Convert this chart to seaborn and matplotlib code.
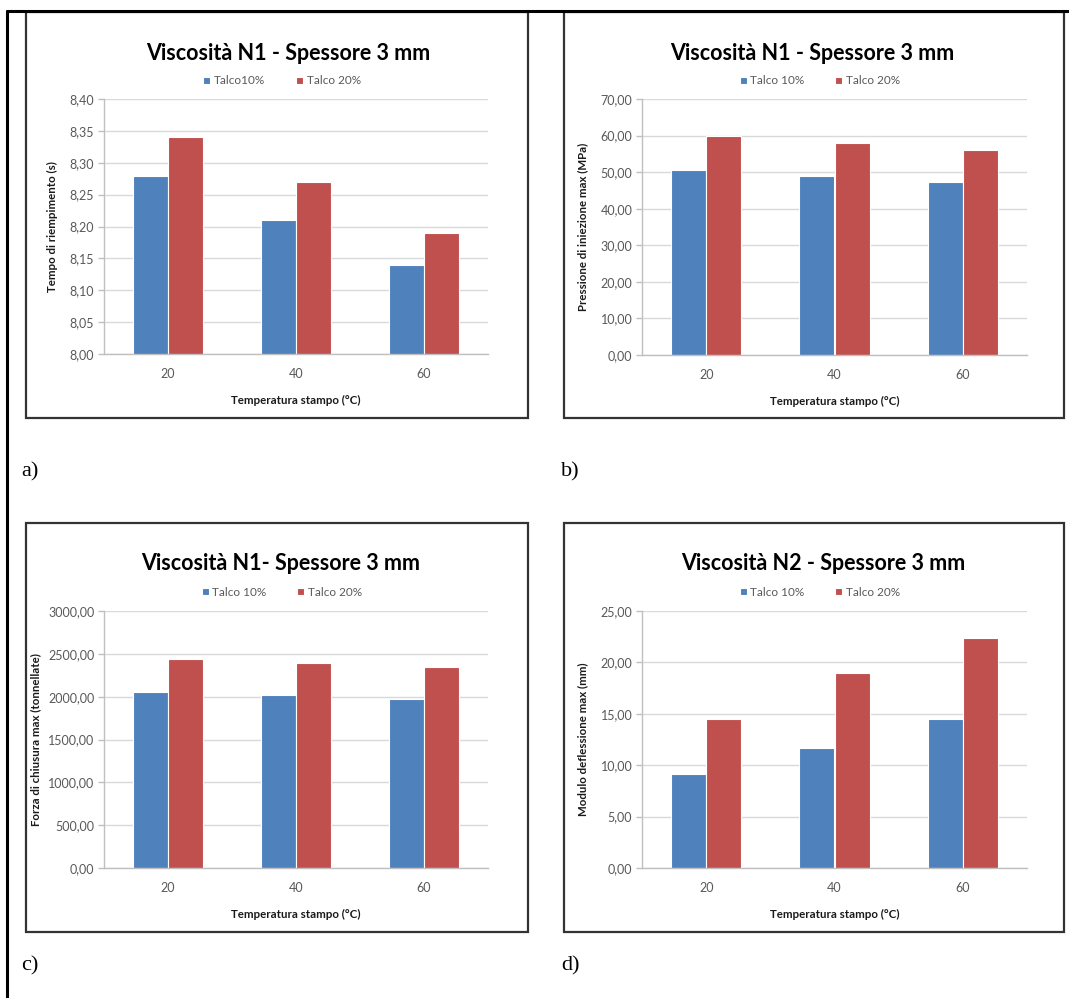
import matplotlib
matplotlib.use("Agg")
import matplotlib.pyplot as plt
import seaborn as sns
import numpy as np
import pandas as pd
from matplotlib.patches import Rectangle
from matplotlib.lines import Line2D
from matplotlib.ticker import FuncFormatter, MultipleLocator

# --- dati ---
temperature = ["20", "40", "60"]

tempo_t10 = [8.28, 8.21, 8.14]
tempo_t20 = [8.34, 8.27, 8.19]

pressione_t10 = [50.6, 49.0, 47.3]
pressione_t20 = [59.9, 57.9, 56.0]

forza_t10 = [2060, 2025, 1975]
forza_t20 = [2435, 2392, 2345]

deflessione_t10 = [9.16, 11.72, 14.48]
deflessione_t20 = [14.45, 18.93, 22.37]

# --- stile ---
sns.set_theme(style="white")
plt.rcParams["font.family"] = ["Lato", "DejaVu Sans"]

W, H = 1069, 998
BLU = "#4F81BD"
ROSSO = "#C0504D"
GRIGIO = "#595959"

fig = plt.figure(figsize=(W / 100, H / 100), dpi=100)


def px_axes(x0, y0, x1, y1):
    return fig.add_axes([x0 / W, 1 - y1 / H, (x1 - x0) / W, (y1 - y0) / H])


def fig_xy(x, y):
    return x / W, 1 - y / H


def virgola(v, pos):
    return f"{v:.2f}".replace(".", ",")


def grafico(box, plot, titolo, tx, lx, etichette, ylabel, ylx, serie10, serie20,
            ylim, passo):
    bx0, by0, bx1, by1 = box
    fig.add_artist(Rectangle(fig_xy(bx0, by1), (bx1 - bx0) / W, (by1 - by0) / H,
                             transform=fig.transFigure, fill=False,
                             edgecolor="#333333", lw=1.6))
    ax = px_axes(*plot)
    df = pd.DataFrame({
        "temp": temperature * 2,
        "serie": [etichette[0]] * 3 + [etichette[1]] * 3,
        "val": serie10 + serie20,
    })
    sns.barplot(data=df, x="temp", y="val", hue="serie", order=temperature,
                palette=[BLU, ROSSO], saturation=1, width=0.55,
                edgecolor="white", linewidth=0.8, ax=ax, legend=True)
    ax.set_ylim(*ylim)
    ax.set_xlim(-0.5, 2.5)
    ax.yaxis.set_major_locator(MultipleLocator(passo))
    ax.yaxis.set_major_formatter(FuncFormatter(virgola))
    ax.yaxis.grid(True, color="#d9d9d9", lw=1)
    ax.set_axisbelow(True)
    for s in ["top", "right"]:
        ax.spines[s].set_visible(False)
    for s in ["left", "bottom"]:
        ax.spines[s].set_color("#bfbfbf")
        ax.spines[s].set_linewidth(1)
    ax.tick_params(axis="y", left=True, length=4, width=1, color="#bfbfbf",
                   pad=3, labelsize=9, labelcolor=GRIGIO)
    ax.tick_params(axis="x", bottom=False, length=0, pad=10, labelsize=9,
                   labelcolor=GRIGIO)
    ax.set_xlabel("")
    ax.set_ylabel("")

    handles, labels = ax.get_legend_handles_labels()
    ax.legend(handles, labels, loc="center", bbox_to_anchor=fig_xy(lx, by0 + 69),
              bbox_transform=fig.transFigure, ncol=2, frameon=False,
              fontsize=8.5, handlelength=0.6, handleheight=0.6,
              handletextpad=0.3, columnspacing=2.6, labelcolor=GRIGIO)

    fig.text(*fig_xy(tx, by0 + 41), titolo, ha="center", va="center",
             fontsize=15.5, fontweight="bold", color="black")
    px0, py0, px1, py1 = plot
    fig.text(*fig_xy((px0 + px1) / 2, py1 + 46), "Temperatura stampo (°C)",
             ha="center", va="center", fontsize=8.3, fontweight="bold",
             color="#1a1a1a")
    fig.text(*fig_xy(ylx, (py0 + py1) / 2), ylabel, ha="center", va="center",
             rotation=90, fontsize=8.3, fontweight="bold", color="#1a1a1a")
    return ax


grafico((26, 12, 528, 418), (104, 99, 488, 354),
        "Viscosità N1 - Spessore 3 mm", 288, 282, ["Talco10%", "Talco 20%"],
        "Tempo di riempimento (s)", 52, tempo_t10, tempo_t20, (8.0, 8.4), 0.05)

grafico((564, 12, 1064, 418), (642, 99, 1027, 355),
        "Viscosità N1 - Spessore 3 mm", 812, 820, ["Talco 10%", "Talco 20%"],
        "Pressione di iniezione max (MPa)", 583, pressione_t10, pressione_t20,
        (0, 70), 10)

grafico((26, 523, 528, 932), (104, 611, 488, 868),
        "Viscosità N1- Spessore 3 mm", 281, 282, ["Talco 10%", "Talco 20%"],
        "Forza di chiusura max (tonnellate)", 36, forza_t10, forza_t20,
        (0, 3000), 500)

grafico((564, 523, 1064, 932), (642, 611, 1027, 868),
        "Viscosità N2 - Spessore 3 mm", 823, 820, ["Talco 10%", "Talco 20%"],
        "Modulo deflessione max (mm)", 583, deflessione_t10, deflessione_t20,
        (0, 25), 5)

# lettere dei pannelli
for lettera, (x, y) in zip(["a)", "b)", "c)", "d)"],
                           [(21, 472), (561, 472), (21, 966), (561, 966)]):
    fig.text(*fig_xy(x, y), lettera, ha="left", va="center", fontsize=16,
             family="Liberation Serif", color="black")

# bordi della tabella
fig.add_artist(Line2D([7 / W, 7 / W], [0, 1 - 11 / H], color="black", lw=2.2,
                      transform=fig.transFigure))
fig.add_artist(Line2D([7 / W, 1], [1 - 11 / H, 1 - 11 / H], color="black",
                      lw=2.2, transform=fig.transFigure))

fig.savefig("out.png", dpi=100, facecolor="white")
